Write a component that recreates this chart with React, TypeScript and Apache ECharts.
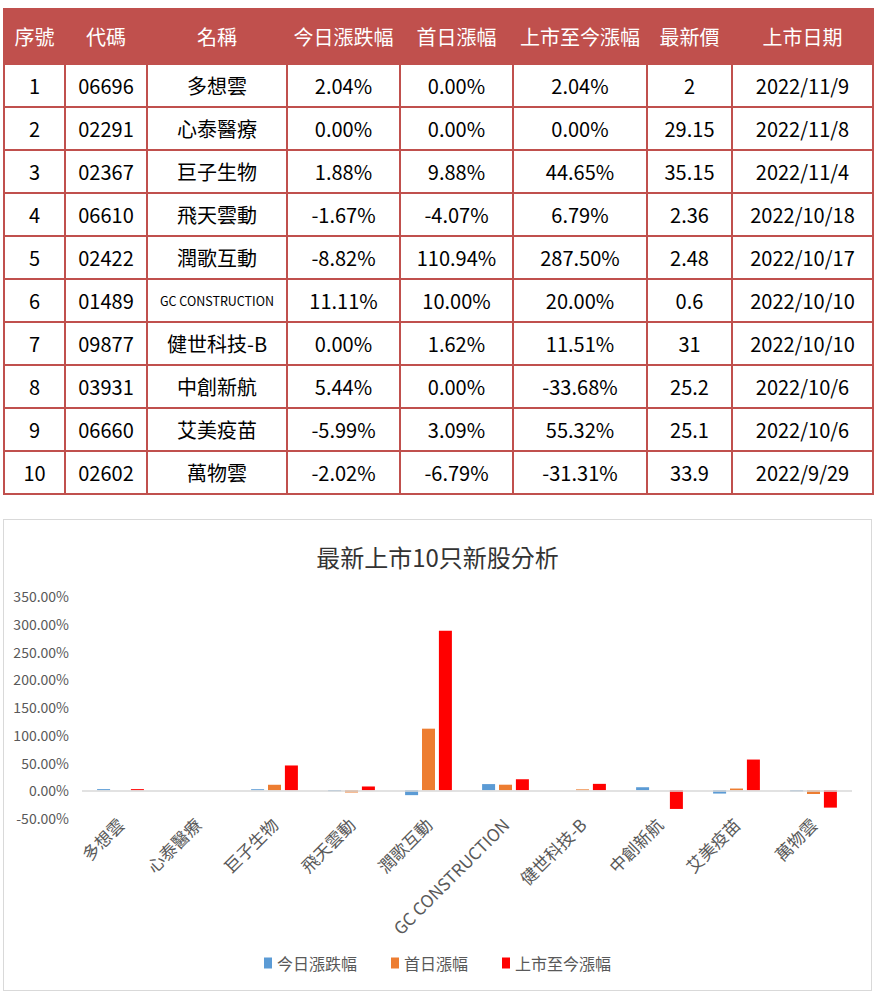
import React, { useEffect, useRef } from "react";
import * as echarts from "echarts";

const headers = ["序號", "代碼", "名稱", "今日漲跌幅", "首日漲幅", "上市至今漲幅", "最新價", "上市日期"];
const names = ["多想雲", "心泰醫療", "巨子生物", "飛天雲動", "潤歌互動", "GC CONSTRUCTION", "健世科技-B", "中創新航", "艾美疫苗", "萬物雲"];
const codes = ["06696", "02291", "02367", "06610", "02422", "01489", "09877", "03931", "06660", "02602"];
const todayChange = [2.04, 0, 1.88, -1.67, -8.82, 11.11, 0, 5.44, -5.99, -2.02];
const firstDayChange = [0, 0, 9.88, -4.07, 110.94, 10, 1.62, 0, 3.09, -6.79];
const sinceListing = [2.04, 0, 44.65, 6.79, 287.5, 20, 11.51, -33.68, 55.32, -31.31];
const latestPrice = ["2", "29.15", "35.15", "2.36", "2.48", "0.6", "31", "25.2", "25.1", "33.9"];
const listDates = ["2022/11/9", "2022/11/8", "2022/11/4", "2022/10/18", "2022/10/17", "2022/10/10", "2022/10/10", "2022/10/6", "2022/10/6", "2022/9/29"];
const seriesNames = ["今日漲跌幅", "首日漲幅", "上市至今漲幅"];
const chartTitle = "最新上市10只新股分析";
const yTicks = { min: -50, max: 350, interval: 50 };

const colWidths = [61, 82, 140, 113, 113, 134, 85, 141];
const RED = "#C0504D";
const FONT = "'Noto Sans CJK TC', 'Noto Sans', sans-serif";

const pct = (v: number) => `${v.toFixed(2)}%`;

function Table() {
  const cellBase: React.CSSProperties = {
    border: `2px solid ${RED}`,
    textAlign: "center",
    verticalAlign: "middle",
    padding: 0,
    fontSize: 20,
    color: "#000",
    whiteSpace: "nowrap",
    overflow: "hidden",
  };
  return (
    <table
      style={{
        position: "absolute",
        left: 3,
        top: 8,
        width: 869,
        borderCollapse: "collapse",
        tableLayout: "fixed",
        fontFamily: FONT,
      }}
    >
      <colgroup>
        {colWidths.map((w, i) => (
          <col key={i} style={{ width: w }} />
        ))}
      </colgroup>
      <thead>
        <tr style={{ height: 55 }}>
          {headers.map((h, i) => (
            <th
              key={i}
              style={{
                ...cellBase,
                background: RED,
                color: "#fff",
                fontWeight: "normal",
                fontSize: 20,
              }}
            >
              {h}
            </th>
          ))}
        </tr>
      </thead>
      <tbody>
        {names.map((n, i) => (
          <tr key={i} style={{ height: 43 }}>
            <td style={cellBase}>{i + 1}</td>
            <td style={cellBase}>{codes[i]}</td>
            <td style={{ ...cellBase, fontSize: n.length > 10 ? 12.5 : 20 }}>{n}</td>
            <td style={cellBase}>{pct(todayChange[i])}</td>
            <td style={cellBase}>{pct(firstDayChange[i])}</td>
            <td style={cellBase}>{pct(sinceListing[i])}</td>
            <td style={cellBase}>{latestPrice[i]}</td>
            <td style={cellBase}>{listDates[i]}</td>
          </tr>
        ))}
      </tbody>
    </table>
  );
}

function Chart() {
  const ref = useRef<HTMLDivElement>(null);
  useEffect(() => {
    if (!ref.current) return;
    const chart = echarts.init(ref.current, undefined, { renderer: "svg" });
    const colors = ["#5B9BD5", "#ED7D31", "#FF0000"];
    const data = [todayChange, firstDayChange, sinceListing];
    chart.setOption({
      animation: false,
      color: colors,
      textStyle: { fontFamily: FONT },
      title: {
        text: chartTitle,
        left: "center",
        top: 19,
        textStyle: { fontSize: 24, fontWeight: "normal", color: "#333", fontFamily: FONT },
      },
      legend: {
        bottom: 14,
        left: "center",
        itemWidth: 8,
        itemHeight: 11,
        itemGap: 34,
        icon: "rect",
        textStyle: { fontSize: 16, color: "#595959", fontFamily: FONT },
        data: seriesNames,
      },
      grid: { left: 78, right: 19, top: 76, bottom: 172, containLabel: false },
      xAxis: {
        type: "category",
        data: names,
        axisLine: { show: false, onZero: false },
        axisTick: { show: false },
        axisLabel: {
          interval: 0,
          rotate: 45,
          margin: 3,
          fontSize: 17,
          color: "#595959",
          fontFamily: FONT,
        },
      },
      yAxis: {
        type: "value",
        min: yTicks.min,
        max: yTicks.max,
        interval: yTicks.interval,
        axisLine: { show: false },
        axisTick: { show: false },
        splitLine: { show: false },
        axisLabel: {
          formatter: (v: number) => pct(v),
          fontSize: 14,
          color: "#595959",
          margin: 13,
          fontFamily: FONT,
        },
      },
      series: seriesNames.map((s, i) => ({
        name: s,
        type: "bar",
        data: data[i],
        barWidth: 13,
        barGap: "30%",
        ...(i === 0
          ? {
              markLine: {
                silent: true,
                symbol: "none",
                label: { show: false },
                lineStyle: { color: "#d9d9d9", type: "solid", width: 1.5 },
                data: [{ yAxis: 0 }],
              },
            }
          : {}),
      })),
    });
    return () => chart.dispose();
  }, []);
  return (
    <div
      style={{
        position: "absolute",
        left: 3,
        top: 519,
        width: 867,
        height: 470,
        border: "1px solid #d9d9d9",
        background: "#fff",
      }}
    >
      <div ref={ref} style={{ width: 867, height: 470 }} />
    </div>
  );
}

export default function App() {
  return (
    <div style={{ position: "absolute", left: 0, top: 0, width: 875, height: 996, background: "#fff" }}>
      <Table />
      <Chart />
    </div>
  );
}
